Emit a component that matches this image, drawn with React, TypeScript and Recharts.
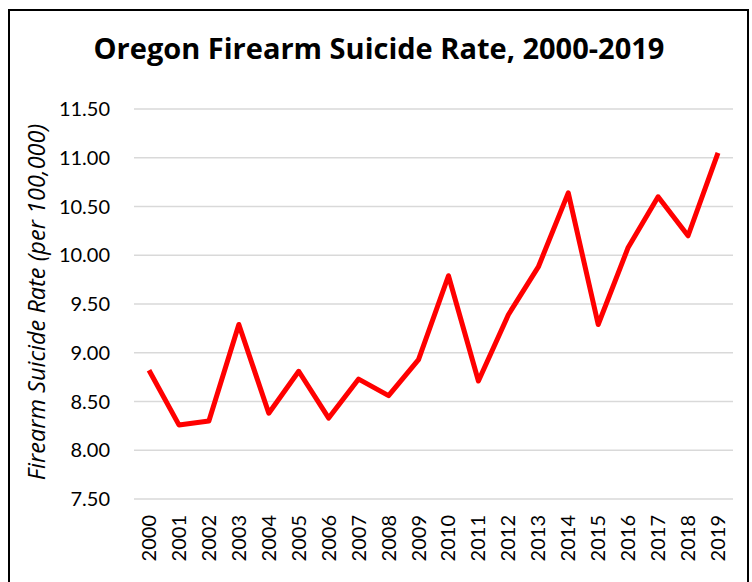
import { CartesianGrid, Line, LineChart, XAxis, YAxis } from "recharts";

const years = [
    "2000", "2001", "2002", "2003", "2004", "2005", "2006", "2007", "2008", "2009",
    "2010", "2011", "2012", "2013", "2014", "2015", "2016", "2017", "2018", "2019",
];
const rates = [
    8.82, 8.26, 8.3, 9.29, 8.38, 8.81, 8.33, 8.73, 8.56, 8.93,
    9.79, 8.71, 9.39, 9.88, 10.64, 9.29, 10.08, 10.6, 10.2, 11.05,
];
const yTicks = [7.5, 8, 8.5, 9, 9.5, 10, 10.5, 11, 11.5];

const title = "Oregon Firearm Suicide Rate, 2000-2019";
const yLabel = "Firearm Suicide Rate (per 100,000)";

const data = years.map((year, i) => ({ year, rate: rates[i] }));

const font = "Lato, 'Open Sans', sans-serif";
const wideFont = "'Open Sans', Lato, sans-serif";

const YearTick = (props: any) => {
    const { x, y, payload } = props;
    return (
        <text
            x={x}
            y={y}
            dy="0.35em"
            textAnchor="end"
            transform={`rotate(-90, ${x}, ${y})`}
            fill="#000"
            fontSize={20}
            fontFamily={font}
        >
            {payload.value}
        </text>
    );
};

export default function App() {
    return (
        <div
            style={{
                position: "absolute",
                top: 0,
                left: 0,
                width: 752,
                height: 582,
                overflow: "hidden",
                background: "#fff",
            }}
        >
            <div
                style={{
                    position: "absolute",
                    left: 8,
                    top: 9,
                    width: 741,
                    height: 620,
                    border: "2px solid #000",
                    boxSizing: "border-box",
                }}
            />
            <div
                style={{
                    position: "absolute",
                    top: 28,
                    left: 0,
                    width: 758,
                    textAlign: "center",
                    fontFamily: wideFont,
                    fontWeight: 700,
                    fontSize: 29,
                    color: "#000",
                }}
            >
                {title}
            </div>
            <LineChart
                width={752}
                height={582}
                data={data}
                margin={{ top: 109, right: 19, left: 0, bottom: 0 }}
                style={{ position: "absolute", top: 0, left: 0 }}
            >
                <CartesianGrid stroke="#D9D9D9" strokeWidth={1.5} vertical={false} />
                <XAxis
                    dataKey="year"
                    axisLine={false}
                    tickLine={false}
                    tickSize={0}
                    tickMargin={16}
                    height={83}
                    interval={0}
                    padding={{ left: 15, right: 15 }}
                    tick={<YearTick />}
                />
                <YAxis
                    domain={[7.5, 11.5]}
                    ticks={yTicks}
                    axisLine={false}
                    tickLine={false}
                    tickSize={0}
                    tickMargin={24}
                    width={134}
                    tickFormatter={(v: number) => v.toFixed(2)}
                    tick={{ fill: "#000", fontSize: 20, fontFamily: font }}
                    label={{
                        content: () => (
                            <text
                                x={37}
                                y={302}
                                dy="0.35em"
                                textAnchor="middle"
                                transform="rotate(-90, 37, 302)"
                                fill="#000"
                                fontSize={23.5}
                                fontStyle="italic"
                                fontFamily={wideFont}
                            >
                                {yLabel}
                            </text>
                        ),
                    }}
                />
                <Line
                    type="linear"
                    dataKey="rate"
                    stroke="#FF0000"
                    strokeWidth={5}
                    strokeLinejoin="round"
                    dot={false}
                    activeDot={false}
                    isAnimationActive={false}
                />
            </LineChart>
        </div>
    );
}
